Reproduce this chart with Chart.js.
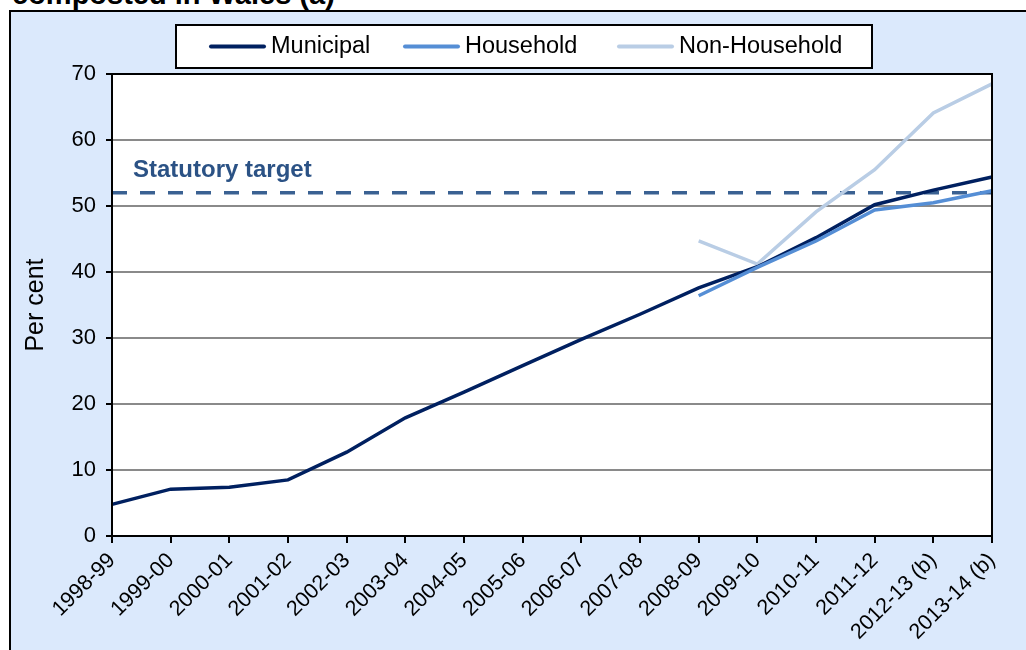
<!DOCTYPE html>
<html>
<head>
<meta charset="utf-8">
<script src="https://cdn.jsdelivr.net/npm/chart.js@4"></script>
<style>
  body { margin: 0; width: 1026px; height: 650px; overflow: hidden; position: relative; background: #fff; font-family: 'Liberation Sans', Arial, sans-serif; }
  #title { position: absolute; left: 12px; top: -20px; font: bold 29px/29px 'Liberation Sans', Arial, sans-serif; color: #000; white-space: nowrap; }
  #panel { position: absolute; left: 9px; top: 10px; width: 1040px; height: 660px; background: #dbe9fc; border: 2px solid #000; }
  #chart { position: absolute; left: 0; top: 0; }
</style>
</head>
<body>
<div id="title">composted in Wales (a)</div>
<div id="panel"></div>
<canvas id="chart" width="1026" height="650" style="width:1026px;height:650px"></canvas>
<script>
// Years (categories)
const years = ['1998-99', '1999-00', '2000-01', '2001-02', '2002-03', '2003-04', '2004-05', '2005-06',
  '2006-07', '2007-08', '2008-09', '2009-10', '2010-11', '2011-12', '2012-13 (b)', '2013-14 (b)'];

// Per cent recycled / reused / composted
const municipal = [4.8, 7.1, 7.4, 8.5, 12.7, 17.9, 21.8, 25.8, 29.8, 33.6, 37.6, 40.8, 45.2, 50.2, 52.4, 54.4];
const household = [null, null, null, null, null, null, null, null, null, null, 36.4, 40.7, 44.7, 49.4, 50.5, 52.3];
const nonHousehold = [null, null, null, null, null, null, null, null, null, null, 44.7, 41.2, 49.1, 55.5, 64.1, 68.5];
const target = years.map(() => 52);

const yTicks = [0, 10, 20, 30, 40, 50, 60, 70];

const FONT = "'Liberation Sans', Arial, sans-serif";

// fondo blanco y marco del área de trazado
const plotBox = {
  id: 'plotBox',
  beforeDraw(chart) {
    const { ctx, chartArea: a } = chart;
    ctx.save();
    ctx.fillStyle = '#fff';
    ctx.fillRect(a.left, a.top, a.right - a.left, a.bottom - a.top);
    ctx.restore();
  },
  afterDraw(chart) {
    const { ctx, chartArea: a } = chart;
    ctx.save();
    ctx.strokeStyle = '#000';
    ctx.lineWidth = 2;
    ctx.strokeRect(a.left, a.top, a.right - a.left, a.bottom - a.top);

    // target label
    const y = chart.scales.y.getPixelForValue(52);
    ctx.fillStyle = '#2b5285';
    ctx.font = 'bold 24px ' + FONT;
    ctx.textBaseline = 'alphabetic';
    ctx.fillText('Statutory target', a.left + 21, y - 16);

    // legend box
    ctx.fillStyle = '#fff';
    ctx.fillRect(176, 25, 696, 43);
    ctx.strokeRect(176, 25, 696, 43);
    const items = [
      ['Municipal', '#002060', 211],
      ['Household', '#558ed5', 405],
      ['Non-Household', '#b9cde5', 619]
    ];
    ctx.font = '23.5px ' + FONT;
    ctx.textBaseline = 'middle';
    items.forEach(([label, color, x]) => {
      ctx.strokeStyle = color;
      ctx.lineWidth = 4;
      ctx.lineCap = 'round';
      ctx.beginPath();
      ctx.moveTo(x, 46.5);
      ctx.lineTo(x + 53, 46.5);
      ctx.stroke();
      ctx.fillStyle = '#000';
      ctx.fillText(label, x + 60, 47);
    });
    ctx.restore();
  }
};

new Chart(document.getElementById('chart'), {
  type: 'line',
  data: {
    labels: years,
    datasets: [{
      label: 'Household',
      data: household,
      borderColor: '#558ed5',
      borderWidth: 3.5,
      pointRadius: 0,
      order: 0
    }, {
      label: 'Municipal',
      data: municipal,
      borderColor: '#002060',
      borderWidth: 3.5,
      pointRadius: 0,
      order: 1
    }, {
      label: 'Non-Household',
      data: nonHousehold,
      borderColor: '#b9cde5',
      borderWidth: 3.5,
      pointRadius: 0,
      order: 2
    }, {
      label: 'Statutory target',
      data: target,
      borderColor: '#3a6192',
      borderWidth: 3.5,
      borderDash: [15, 13],
      pointRadius: 0,
      order: 3
    }]
  },
  options: {
    responsive: false,
    animation: false,
    layout: { padding: { top: 74, right: 34, bottom: 0, left: 0 } },
    plugins: {
      legend: { display: false },
      tooltip: { enabled: false }
    },
    scales: {
      x: {
        offset: false,
        afterFit: (s) => { s.height = 114; },
        grid: { drawOnChartArea: false, tickColor: '#000', tickLength: 7, lineWidth: 2 },
        border: { color: '#000', width: 2 },
        ticks: { autoSkip: false, maxRotation: 45, minRotation: 45, color: '#000', padding: 5, font: { family: FONT, size: 21.5 } }
      },
      y: {
        min: 0,
        max: 70,
        afterFit: (s) => { s.width = 112; },
        afterBuildTicks: (s) => { s.ticks = yTicks.map(v => ({ value: v })); },
        grid: { color: '#8a8a8a', lineWidth: 2, tickColor: '#000', tickLength: 6 },
        border: { color: '#000', width: 2 },
        ticks: { color: '#000', padding: 10, font: { family: FONT, size: 22 } },
        title: { display: true, text: 'Per cent', color: '#000', padding: { top: 21 }, font: { family: FONT, size: 25 } }
      }
    }
  },
  plugins: [plotBox]
});
</script>
</body>
</html>
